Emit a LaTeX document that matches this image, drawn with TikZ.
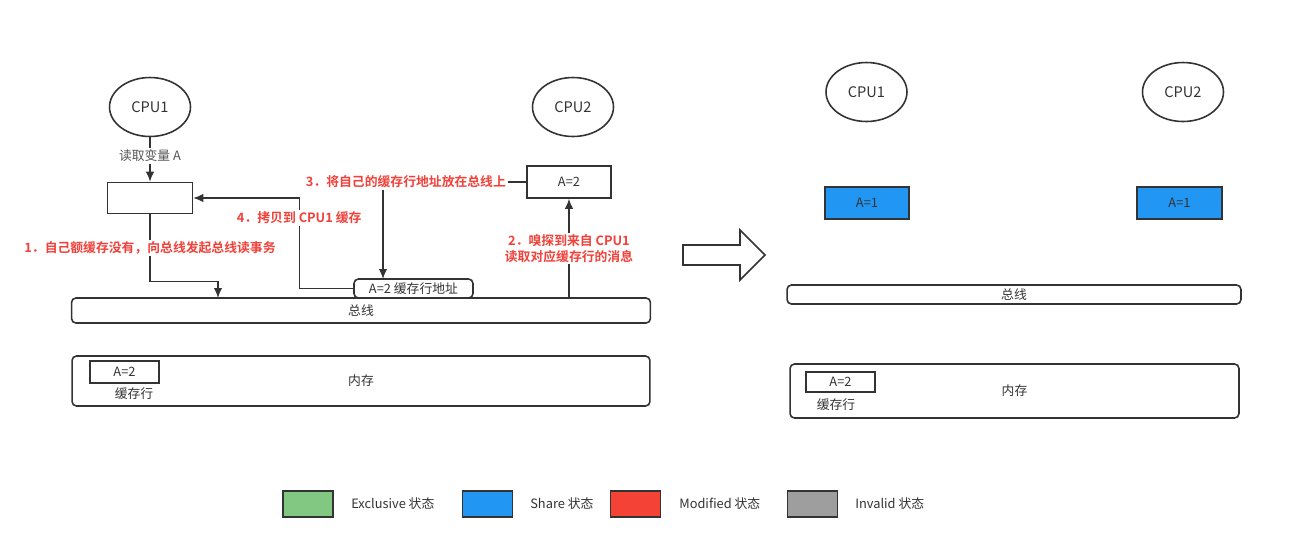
\documentclass[tikz,border=0pt]{standalone}
\usepackage{fontspec}
\setmainfont{Noto Sans CJK SC}[BoldFont={Noto Sans CJK SC Bold}]
\usetikzlibrary{shapes.geometric,arrows.meta}
\definecolor{linec}{HTML}{333333}
\definecolor{graytxt}{HTML}{555555}
\definecolor{redtxt}{HTML}{F2413A}
\definecolor{exgreen}{HTML}{82C882}
\definecolor{shblue}{HTML}{2196F3}
\definecolor{mdred}{HTML}{F44336}
\definecolor{invgray}{HTML}{9E9E9E}
\begin{document}
\begin{tikzpicture}[x=0.02cm,y=-0.02cm,
        every node/.style={font=\fontsize{7.3}{9}\selectfont,text=linec},
        cpu/.style={draw=linec,line width=0.9pt,ellipse,minimum width=1.62cm,minimum height=1.18cm,inner sep=0pt,font=\fontsize{8.3}{10}\selectfont},
        box/.style={draw=linec,line width=0.9pt,rectangle,inner sep=0pt},
        rbox/.style={box,rounded corners=2.5pt},
        arr/.style={draw=linec,line width=0.8pt,-{Latex[length=2mm,width=1.7mm]}},
        lbl/.style={fill=white,text=redtxt,inner sep=1pt,align=center,font=\fontsize{7.3}{9}\selectfont\bfseries},
        key/.style={box,minimum width=1cm,minimum height=0.52cm}]
        \useasboundingbox (0,0) rectangle (1296,556);
        % before
        \node[cpu] (cpuA) at (150,107) {CPU1};
        \node[cpu] (cpuB) at (573,107) {CPU2};
        \node[box,minimum width=1.7cm,minimum height=0.62cm] (cacheA) at (150,198) {};
        \node[box,minimum width=1.68cm,minimum height=0.64cm] (cacheB) at (569,182) {A=2};
        \node[rbox,minimum width=11.58cm,minimum height=0.5cm] (bus) at (361,310.5) {总线};
        \node[rbox,minimum width=2.38cm,minimum height=0.38cm] (addr) at (413.5,288.5) {A=2 缓存行地址};
        \node[rbox,minimum width=11.56cm,minimum height=1cm] (mem) at (361,381) {内存};
        \node[box,minimum width=1.38cm,minimum height=0.44cm] (line) at (124.5,372) {A=2};
        \node (lineTxt) at (134,394) {缓存行};
        \coordinate (b1) at (218,298);
        \coordinate (b2) at (569,298);
        \coordinate (a3) at (383,279);
        \draw[arr] (cpuA) -- node[fill=white,text=graytxt,inner sep=1pt,pos=0.42] {读取变量 A} (cacheA);
        \draw[arr] (cacheA.south) -- node[lbl] {1．自己额缓存没有，向总线发起总线读事务} ++(0,67) -| (b1);
        \draw[arr] (b2) -- node[lbl] {2．嗅探到来自 CPU1\\读取对应缓存行的消息} (cacheB.south);
        \draw[arr] (cacheB.west) -| node[lbl,pos=0.42] {3．将自己的缓存行地址放在总线上} (a3);
        \draw[arr] (addr.west) -- ++(-54,0) |- node[lbl,pos=0.39] {4．拷贝到 CPU1 缓存} (cacheA.east);
        % step arrow
        \draw[draw=linec,line width=0.9pt,fill=white] (683,245) -- (740,245) -- (740,230) -- (765,255)
            -- (740,280) -- (740,265) -- (683,265) -- cycle;
        % after
        \node[cpu] (cpuC) at (866.5,92) {CPU1};
        \node[cpu] (cpuD) at (1183,92) {CPU2};
        \node[box,fill=shblue,minimum width=1.68cm,minimum height=0.64cm] (cacheC) at (867,203) {A=1};
        \node[box,fill=shblue,minimum width=1.7cm,minimum height=0.64cm] (cacheD) at (1179.5,203) {A=1};
        \node[rbox,minimum width=9.08cm,minimum height=0.38cm] (busR) at (1014,294.5) {总线};
        \node[rbox,minimum width=8.98cm,minimum height=1.08cm] (memR) at (1014.5,391) {内存};
        \node[box,minimum width=1.38cm,minimum height=0.4cm] (lineR) at (840.5,382) {A=2};
        \node (lineRTxt) at (836,405) {缓存行};
        % legend
        \node[key,fill=exgreen] (kE) at (308,504) {};
        \node[key,fill=shblue] (kS) at (487.5,504) {};
        \node[key,fill=mdred] (kM) at (635.5,504) {};
        \node[key,fill=invgray] (kI) at (812.5,504) {};
        \node[anchor=west,inner sep=0pt] (tE) at (351,504) {Exclusive 状态};
        \node[anchor=west,inner sep=0pt] (tS) at (530,504) {Share 状态};
        \node[anchor=west,inner sep=0pt] (tM) at (679,504) {Modified 状态};
        \node[anchor=west,inner sep=0pt] (tI) at (855,504) {Invalid 状态};
\end{tikzpicture}
\end{document}
